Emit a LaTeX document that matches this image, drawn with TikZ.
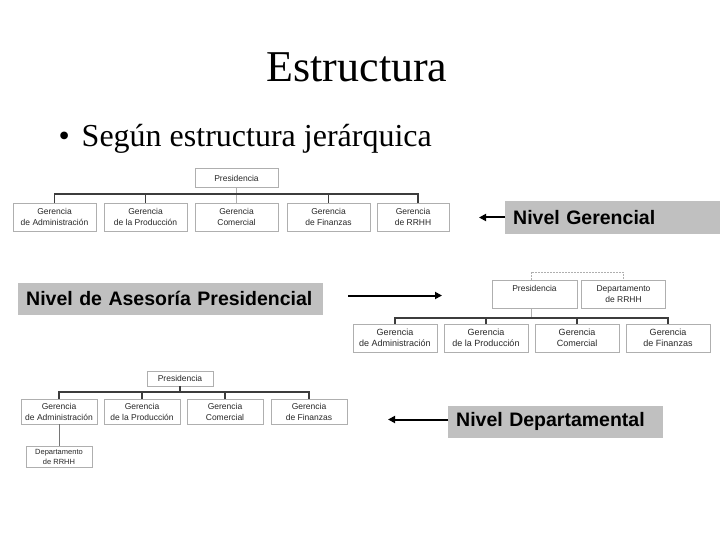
\documentclass[tikz,border=0pt]{standalone}
\usepackage{fontspec}
\setmainfont{Liberation Serif}
\setsansfont{Liberation Sans}
\usepackage{xcolor}
\usepackage{tikz}
\usetikzlibrary{positioning, arrows.meta, calc}
\definecolor{boxgray}{RGB}{175,175,175}
\definecolor{busgray}{RGB}{60,60,60}
\definecolor{txtgray}{RGB}{40,40,40}
\definecolor{lblgray}{RGB}{192,192,192}

\begin{document}
\begin{tikzpicture}[x=1pt, y=-1pt,
  orgbox/.style={rectangle, draw=boxgray, line width=0.6pt, fill=white,
                 minimum width=83pt, minimum height=28pt, inner sep=1pt,
                 align=center, text=txtgray,
                 font=\sffamily\fontsize{8.5}{11}\selectfont},
  lvl/.style={rectangle, fill=lblgray, anchor=west, align=left,
              minimum height=32pt, inner xsep=8pt, inner ysep=0pt,
              font=\sffamily\bfseries\fontsize{19.5}{22}\selectfont},
  bus/.style={draw=busgray, line width=1.1pt},
  thin/.style={draw=boxgray, line width=0.6pt},
  dashlink/.style={draw=boxgray, line width=0.6pt, dash pattern=on 2pt off 1pt},
  arr/.style={-{Triangle[length=7pt, width=7pt]}, line width=2pt}
]
\useasboundingbox (0,0) rectangle (720,540);

% Title
\node[anchor=base, font=\fontsize{44}{48}\selectfont] (title) at (357,82) {Estructura};
\node[anchor=base west, font=\fontsize{32}{36}\selectfont] (bullet) at (55,147)
    {\textbullet\hspace{12pt}Según estructura jerárquica};

% Chart 1 (Nivel Gerencial)
\node[orgbox, minimum height=19pt] (p1) at (236.5,178) {Presidencia};
\node[orgbox] (g1a) at (54.5,217)  {Gerencia\\de Administración};
\node[orgbox] (g1b) at (145.5,217) {Gerencia\\de la Producción};
\node[orgbox] (g1c) at (236.5,217) {Gerencia\\Comercial};
\node[orgbox] (g1d) at (328.5,217) {Gerencia\\de Finanzas};
\node[orgbox, minimum width=72pt] (g1e) at (413,217) {Gerencia\\de RRHH};
\coordinate (bus1) at (0,194);
\coordinate (drop1e) at (418,0);
\draw[thin] (p1.south) -- (g1c.north);
\draw[bus] (g1a.north) -- (g1a.north |- bus1) -- (drop1e |- bus1) -- (drop1e |- g1e.north);
\draw[bus] (g1b.north) -- (g1b.north |- bus1);
\draw[bus] (g1d.north) -- (g1d.north |- bus1);

% Chart 2 (Nivel de Asesoria)
\node[orgbox, minimum width=85pt] (p2) at (534.5,294) {Presidencia\\[1pt]};
\node[orgbox, minimum width=84pt] (d2) at (623.5,294) {Departamento\\de RRHH};
\node[orgbox, minimum width=84pt, font=\sffamily\fontsize{9}{11}\selectfont]
    (g2a) at (395,338) {Gerencia\\de Administración};
\node[orgbox, minimum width=84pt, font=\sffamily\fontsize{9}{11}\selectfont]
    (g2b) at (486,338) {Gerencia\\de la Producción};
\node[orgbox, minimum width=84pt, font=\sffamily\fontsize{9}{11}\selectfont]
    (g2c) at (577,338) {Gerencia\\Comercial};
\node[orgbox, minimum width=84pt, font=\sffamily\fontsize{9}{11}\selectfont]
    (g2d) at (668,338) {Gerencia\\de Finanzas};
\coordinate (top2) at (0,272);
\coordinate (bus2) at (0,318);
\coordinate (pdrop2) at (531,0);
\draw[dashlink] (pdrop2 |- p2.north) -- (pdrop2 |- top2) -| (d2.north);
\draw[thin] (pdrop2 |- p2.south) -- (pdrop2 |- bus2);
\draw[bus] (g2a.north) -- (g2a.north |- bus2) -- (g2d.north |- bus2) -- (g2d.north);
\draw[bus] (g2b.north) -- (g2b.north |- bus2);
\draw[bus] (g2c.north) -- (g2c.north |- bus2);

% Chart 3 (Nivel Departamental)
\node[orgbox, minimum width=66pt, minimum height=15pt] (p3) at (180,378.5) {Presidencia};
\node[orgbox, minimum width=76pt, minimum height=25pt] (g3a) at (59,411.5)  {Gerencia\\de Administración};
\node[orgbox, minimum width=76pt, minimum height=25pt] (g3b) at (142,411.5) {Gerencia\\de la Producción};
\node[orgbox, minimum width=76pt, minimum height=25pt] (g3c) at (225,411.5) {Gerencia\\Comercial};
\node[orgbox, minimum width=76pt, minimum height=25pt] (g3d) at (309,411.5) {Gerencia\\de Finanzas};
\node[orgbox, minimum width=66pt, minimum height=21pt,
      font=\sffamily\fontsize{7.5}{10}\selectfont] (d3) at (59,456.5) {Departamento\\de RRHH};
\coordinate (bus3) at (0,392);
\draw[bus] (p3.south) -- (p3.south |- bus3);
\draw[bus] (g3a.north) -- (g3a.north |- bus3) -- (g3d.north |- bus3) -- (g3d.north);
\draw[bus] (g3b.north) -- (g3b.north |- bus3);
\draw[bus] (g3c.north) -- (g3c.north |- bus3);
\draw[thin, draw=busgray!70] (g3a.south) -- (d3.north);

% Level labels
\node[lvl, text width=199pt] (lvlGer) at (505,217.5) {Nivel Gerencial};
\node[lvl, text width=289pt] (lvlAse) at (18,298.5) {Nivel de Asesoría Presidencial};
\node[lvl, text width=199pt] (lvlDep) at (448,421.5) {Nivel Departamental};

% Arrows
\coordinate (tipGer) at (479,0);
\coordinate (tipAse) at (442,0);
\coordinate (tipDep) at (388,0);
\draw[arr] (lvlGer.west) -- (lvlGer.west -| tipGer);
\draw[arr] ([xshift=25pt, yshift=3pt]lvlAse.east) -- ([yshift=3pt]lvlAse.east -| tipAse);
\draw[arr] ([yshift=2pt]lvlDep.west) -- ([yshift=2pt]lvlDep.west -| tipDep);

\end{tikzpicture}
\end{document}
